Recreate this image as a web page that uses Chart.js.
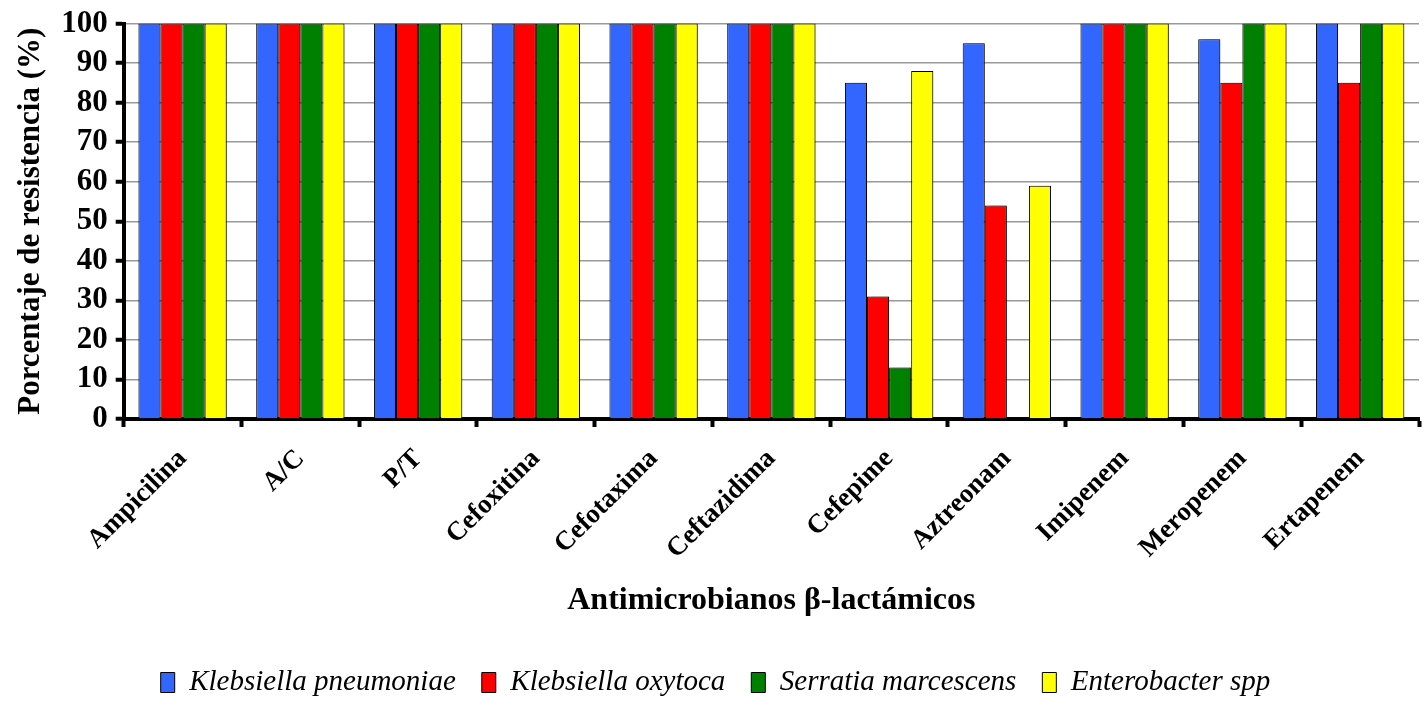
<!DOCTYPE html>
<html>
<head>
<meta charset="utf-8">
<script src="https://cdn.jsdelivr.net/npm/chart.js@4.4.0/dist/chart.umd.min.js"></script>
<style>
    html, body { margin: 0; padding: 0; background: #fff; }
    #wrap { width: 1425px; height: 707px; }
</style>
</head>
<body>
<div id="wrap"><canvas id="resist-chart"></canvas></div>
<script>
const antibiotics = ['Ampicilina', 'A/C', 'P/T', 'Cefoxitina', 'Cefotaxima', 'Ceftazidima',
    'Cefepime', 'Aztreonam', 'Imipenem', 'Meropenem', 'Ertapenem'];
const kPneumoniae = [100, 100, 100, 100, 100, 100, 85, 95, 100, 96, 100];
const kOxytoca = [100, 100, 100, 100, 100, 100, 31, 54, 100, 85, 85];
const sMarcescens = [100, 100, 100, 100, 100, 100, 13, 0, 100, 100, 100];
const enterobacter = [100, 100, 100, 100, 100, 100, 88, 59, 100, 100, 100];
const yTicks = [0, 10, 20, 30, 40, 50, 60, 70, 80, 90, 100];

const serif = '"Liberation Serif", "Times New Roman", serif';

function bars(label, data, color) {
    return {
        label: label,
        data: data,
        backgroundColor: color,
        borderColor: '#000',
        borderWidth: 1,
        borderSkipped: 'bottom',
        categoryPercentage: 0.75,
        barPercentage: 1.0
    };
}

// soft drop shadow behind the bars
const barShadow = {
    id: 'barShadow',
    beforeDatasetsDraw(chart) {
        const ctx = chart.ctx;
        ctx.save();
        ctx.shadowColor = 'rgba(0,0,0,0.35)';
        ctx.shadowBlur = 4;
        ctx.shadowOffsetX = 3;
        ctx.shadowOffsetY = 0;
    },
    afterDatasetsDraw(chart) {
        chart.ctx.restore();
    }
};

const resistChart = new Chart(document.getElementById('resist-chart'), {
    type: 'bar',
    data: {
        labels: antibiotics,
        datasets: [
            bars('Klebsiella pneumoniae', kPneumoniae, '#3366ff'),
            bars('Klebsiella oxytoca', kOxytoca, '#ff0000'),
            bars('Serratia marcescens', sMarcescens, '#008000'),
            bars('Enterobacter spp', enterobacter, '#ffff00')
        ]
    },
    plugins: [barShadow],
    options: {
        responsive: true,
        maintainAspectRatio: false,
        animation: false,
        layout: {
            padding: { top: 8, right: 6, left: 12, bottom: 0 }
        },
        scales: {
            x: {
                grid: {
                    display: true,
                    drawOnChartArea: false,
                    offset: true,
                    tickColor: '#000',
                    tickWidth: 4,
                    tickLength: 8
                },
                border: { color: '#000', width: 4 },
                ticks: {
                    color: '#000',
                    maxRotation: 45,
                    minRotation: 45,
                    padding: 16,
                    font: { family: serif, size: 27, weight: 'bold' }
                },
                title: {
                    display: true,
                    text: 'Antimicrobianos β-lactámicos',
                    color: '#000',
                    font: { family: serif, size: 32, weight: 'bold' },
                    padding: { top: 0, bottom: 22 }
                }
            },
            y: {
                min: 0,
                max: 100,
                afterBuildTicks(axis) {
                    axis.ticks = yTicks.map(v => ({ value: v }));
                },
                grid: {
                    color: '#999',
                    lineWidth: 1.5,
                    tickColor: '#000',
                    tickWidth: 4,
                    tickLength: 8
                },
                border: { color: '#000', width: 4 },
                ticks: {
                    color: '#000',
                    autoSkip: false,
                    padding: 8,
                    font: { family: serif, size: 31, weight: 'bold', lineHeight: 1 }
                },
                title: {
                    display: true,
                    text: 'Porcentaje de resistencia (%)',
                    color: '#000',
                    font: { family: serif, size: 31, weight: 'bold' },
                    padding: { top: 0, bottom: 4 }
                }
            }
        },
        plugins: {
            legend: {
                position: 'bottom',
                labels: {
                    color: '#000',
                    boxWidth: 14,
                    boxHeight: 20,
                    padding: 26,
                    font: { family: serif, size: 29, style: 'italic' }
                }
            },
            tooltip: { enabled: false }
        }
    }
});
</script>
</body>
</html>
